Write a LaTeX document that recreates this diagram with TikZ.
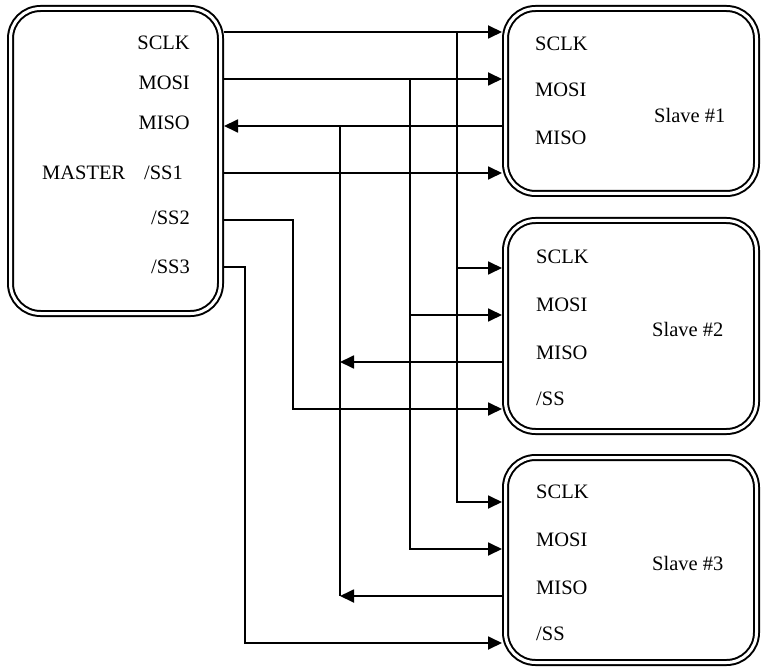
\documentclass[tikz,border=0pt]{standalone}
\usepackage{fontspec}
\setmainfont{Liberation Serif}
\usepackage{tikz}
\usetikzlibrary{arrows.meta}

\begin{document}
\begin{tikzpicture}[x=1pt,y=-1pt,>={Triangle[length=14pt,width=13pt]},
  unit/.style={draw,double,line width=2pt,double distance=3pt,rounded corners=30pt,
    outer sep=3.5pt,inner sep=0pt},
  sig/.style={line width=1.8pt},
  pin/.style={inner sep=0pt,font=\fontsize{20.5}{24}\selectfont}]
  \useasboundingbox (0,0) rectangle (762,668);
  % boxes
  \node[unit,minimum width=210pt,minimum height=305pt] (m) at (115.5,161) {};
  \node[unit,minimum width=251pt,minimum height=185pt] (s1) at (631,101) {};
  \node[unit,minimum width=251pt,minimum height=211pt] (s2) at (631,326) {};
  \node[unit,minimum width=251pt,minimum height=205pt] (s3) at (631,560) {};
  % master pins
  \node[pin,anchor=base east] (m-sclk) at (190,50) {SCLK};
  \node[pin,anchor=base east] (m-mosi) at (190,90) {MOSI};
  \node[pin,anchor=base east] (m-miso) at (190,130) {MISO};
  \node[pin,anchor=base east] (m-ss1) at (183,180) {/SS1};
  \node[pin,anchor=base west] (m-name) at (42,180) {MASTER};
  \node[pin,anchor=base east] (m-ss2) at (190,225) {/SS2};
  \node[pin,anchor=base east] (m-ss3) at (190,273) {/SS3};
  % slave pins
  \node[pin,anchor=base west] (s1-sclk) at (535,51) {SCLK};
  \node[pin,anchor=base west] (s1-mosi) at (535,97) {MOSI};
  \node[pin,anchor=base west] (s1-miso) at (535,145) {MISO};
  \node[pin,anchor=base west] (s1-name) at (654,123) {Slave \#1};
  \foreach \s/\y in {2/263,3/498}{
    \node[pin,anchor=base west] (s\s-sclk) at (536,\y) {SCLK};
    \node[pin,anchor=base west] (s\s-mosi) at (536,\y+48) {MOSI};
    \node[pin,anchor=base west] (s\s-miso) at (536,\y+96) {MISO};
    \node[pin,anchor=base west] (s\s-ss) at (536,\y+142) {/SS};
  }
  \node[pin,anchor=base west] (s2-name) at (652,336) {Slave \#2};
  \node[pin,anchor=base west] (s3-name) at (652,570) {Slave \#3};
  % bus points
  \coordinate (b-sclk) at (457,32);
  \coordinate (b-mosi) at (410,79);
  \coordinate (b-miso) at (340,126);
  \coordinate (b-ss2) at (293,220);
  \coordinate (b-ss3) at (245,267);
  % SCLK
  \draw[sig,->] (m.east |- b-sclk) -- (s1.west |- b-sclk);
  \draw[sig,->] (b-sclk) |- (s3.west |- 0,502);
  \draw[sig,->] (b-sclk |- 0,268) -- (s2.west |- 0,268);
  % MOSI
  \draw[sig,->] (m.east |- b-mosi) -- (s1.west |- b-mosi);
  \draw[sig,->] (b-mosi) |- (s3.west |- 0,549);
  \draw[sig,->] (b-mosi |- 0,315) -- (s2.west |- 0,315);
  % MISO
  \draw[sig,->] (s1.west |- b-miso) -- (m.east |- b-miso);
  \draw[sig] (b-miso) -- (b-miso |- 0,596);
  \draw[sig,->] (s2.west |- 0,362) -- (b-miso |- 0,362);
  \draw[sig,->] (s3.west |- 0,596) -- (b-miso |- 0,596);
  % slave selects
  \draw[sig,->] (m.east |- 0,173) -- (s1.west |- 0,173);
  \draw[sig,->] (m.east |- b-ss2) -- (b-ss2) |- (s2.west |- 0,409);
  \draw[sig,->] (m.east |- b-ss3) -- (b-ss3) |- (s3.west |- 0,643);
\end{tikzpicture}
\end{document}
